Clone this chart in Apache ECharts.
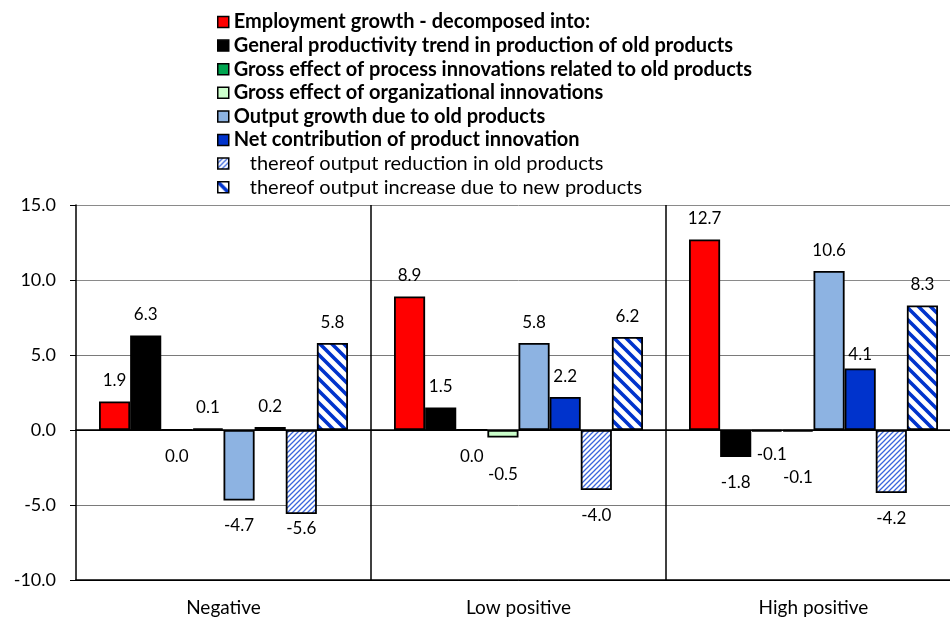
<!DOCTYPE html>
<html>
<head>
<meta charset="utf-8">
<script src="https://cdn.jsdelivr.net/npm/echarts@6/dist/echarts.min.js"></script>
<style>
html,body{margin:0;padding:0;background:#fff;overflow:hidden;width:950px;height:623px;}
#chart{width:975px;height:623px;}
</style>
</head>
<body>
<div id="chart"></div>
<script>
// ---- data ----
var categories = ['Negative', 'Low positive', 'High positive'];
var seriesNames = [
  'Employment growth - decomposed into:',
  'General productivity trend in production of old products',
  'Gross effect of process innovations related to old products',
  'Gross effect of organizational innovations',
  'Output growth due to old products',
  'Net contribution of product innovation',
  'thereof output reduction in old products',
  'thereof output increase due to new products'
];
var employmentGrowth   = [1.9, 8.9, 12.7];
var productivityTrend  = [6.3, 1.5, -1.8];
var processInnovations = [0.0, 0.0, -0.1];
var orgInnovations     = [0.1, -0.5, -0.1];
var outputOldProducts  = [-4.7, 5.8, 10.6];
var netProductInnov    = [0.2, 2.2, 4.1];
var outputReductionOld = [-5.6, -4.0, -4.2];
var outputIncreaseNew  = [5.8, 6.2, 8.3];
var yTicks = [-10, -5, 0, 5, 10, 15];

var seriesValues = [employmentGrowth, productivityTrend, processInnovations, orgInnovations,
                    outputOldProducts, netProductInnov, outputReductionOld, outputIncreaseNew];

// ---- patterns ----
function lightHatch() {
  var s = 5, c = document.createElement('canvas');
  c.width = s; c.height = s;
  var g = c.getContext('2d');
  g.fillStyle = '#ffffff'; g.fillRect(0, 0, s, s);
  g.strokeStyle = '#3b66dc'; g.lineWidth = 1.3;
  g.beginPath();
  g.moveTo(-1, s + 1); g.lineTo(s + 1, -1);
  g.moveTo(-1, 1); g.lineTo(1, -1);
  g.moveTo(s - 1, s + 1); g.lineTo(s + 1, s - 1);
  g.stroke();
  return c;
}
function darkHatch() {
  var s = 12, c = document.createElement('canvas');
  c.width = s; c.height = s;
  var g = c.getContext('2d');
  g.fillStyle = '#ffffff'; g.fillRect(0, 0, s, s);
  g.strokeStyle = '#0033cc'; g.lineWidth = 3.6;
  g.beginPath();
  g.moveTo(-2, -2); g.lineTo(s + 2, s + 2);
  g.moveTo(-2, s - 2); g.lineTo(2, s + 2);
  g.moveTo(s - 2, -2); g.lineTo(s + 2, 2);
  g.stroke();
  return c;
}

var colors = [
  '#ff0000', '#000000', '#00a550', '#ccffcc', '#8db3e2', '#0033cc',
  {image: lightHatch(), repeat: 'repeat'},
  {image: darkHatch(), repeat: 'repeat'}
];

// label distance tweaks (label placement only)
var labelNudge = {
  '3-1': 12,   // -0.5
  '6-0': -11,  // -5.6
  '5-2': -7,   // 4.1
  '3-2': 20    // -0.1 (org, high)
};

var FONT = 'Lato';

var series = seriesValues.map(function (vals, si) {
  return {
    name: seriesNames[si],
    type: 'bar',
    xAxisIndex: 0,
    barGap: '0%',
    barCategoryGap: '15.6%',
    itemStyle: {color: colors[si], borderColor: '#000', borderWidth: 1.8},
    data: vals.map(function (v, ci) {
      var pos = v > 0 ? 'top' : 'bottom';
      var d = (v > 0 ? 12 : 17) + (labelNudge[si + '-' + ci] || 0);
      var lab = {position: pos, distance: d};
      if (si === 2 && ci === 2) { lab.offset = [5, -3]; }
      return {value: v, label: lab};
    }),
    label: {
      show: true,
      color: '#000',
      fontFamily: FONT,
      fontSize: 17,
      formatter: function (p) { return p.value.toFixed(1); }
    }
  };
});

var chart = echarts.init(document.getElementById('chart'), null, {renderer: 'canvas'});
chart.setOption({
  animation: false,
  backgroundColor: '#ffffff',
  textStyle: {fontFamily: FONT},
  legend: {
    orient: 'vertical',
    left: 212,
    top: 7,
    itemWidth: 11,
    itemHeight: 11,
    itemGap: 3.6,
    selectedMode: false,
    icon: 'rect',
    itemStyle: {borderColor: '#000', borderWidth: 1.5},
    data: seriesNames,
    formatter: function (name) {
      var i = seriesNames.indexOf(name);
      return i >= 6 ? '{n|' + name + '}' : '{b|' + name + '}';
    },
    textStyle: {
      color: '#000',
      fontFamily: FONT,
      fontSize: 20,
      lineHeight: 20,
      rich: {
        b: {fontWeight: 'bold', fontSize: 20, fontFamily: FONT, color: '#000', lineHeight: 20},
        n: {fontWeight: 'normal', fontSize: 20, fontFamily: FONT, color: '#000', lineHeight: 20, padding: [0, 0, 0, 16]}
      }
    }
  },
  grid: {left: 76, width: 885, top: 205, height: 375, containLabel: false, outerBoundsMode: 'none'},
  xAxis: [{
    type: 'category',
    data: categories,
    position: 'bottom',
    axisLine: {onZero: false, lineStyle: {color: '#000', width: 1.5}},
    axisTick: {show: false},
    axisLabel: {color: '#000', fontFamily: FONT, fontSize: 19, margin: 18},
    splitLine: {
      show: true,
      interval: function (idx) { return idx === 1 || idx === 2; },
      lineStyle: {color: '#000', width: 1.5}
    }
  }, {
    type: 'category',
    data: categories,
    position: 'top',
    axisLine: {onZero: true, lineStyle: {color: '#000', width: 1.5}},
    axisTick: {show: false},
    axisLabel: {show: false},
    splitLine: {show: false}
  }],
  yAxis: {
    type: 'value',
    min: yTicks[0],
    max: yTicks[yTicks.length - 1],
    interval: 5,
    axisLine: {show: true, lineStyle: {color: '#000', width: 1.5}},
    axisTick: {show: true, inside: false, length: 6, lineStyle: {color: '#000', width: 1}},
    axisLabel: {
      color: '#000', fontFamily: FONT, fontSize: 18, margin: 20,
      formatter: function (v) { return v.toFixed(1); }
    },
    splitLine: {show: true, lineStyle: {color: ['#000', '#7a7a7a', '#000', '#7a7a7a', '#8a8a8a', '#8a8a8a'], width: 1}}
  },
  series: series
});
</script>
</body>
</html>
